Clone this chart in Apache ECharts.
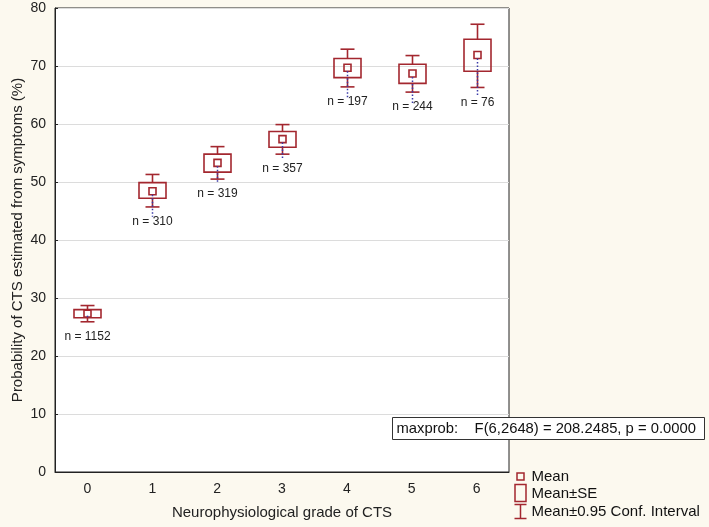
<!DOCTYPE html>
<html>
<head>
<meta charset="utf-8">
<script src="https://cdn.jsdelivr.net/npm/echarts@6/dist/echarts.min.js"></script>
<style>
html,body{margin:0;padding:0;background:#fcf9ef;}
#chart{width:709px;height:527px;}
</style>
</head>
<body>
<div id="chart"></div>
<script>
const categories = ['0', '1', '2', '3', '4', '5', '6'];
const means  = [27.3, 48.4, 53.3, 57.4, 69.7, 68.7, 71.9];
const seLow  = [26.6, 47.2, 51.7, 56.0, 68.0, 67.0, 69.1];
const seHigh = [28.0, 49.9, 54.8, 58.7, 71.3, 70.3, 74.6];
const ciLow  = [25.9, 45.7, 50.5, 54.8, 66.4, 65.5, 66.3];
const ciHigh = [28.7, 51.3, 56.1, 59.9, 72.9, 71.8, 77.2];
const dotLow = [27.3, 44.0, 49.7, 53.8, 64.5, 63.3, 65.0];
const nCounts = [1152, 310, 319, 357, 197, 244, 76];
const yTicks = [0, 10, 20, 30, 40, 50, 60, 70, 80];
const statText = 'maxprob:    F(6,2648) = 208.2485, p = 0.0000';
const legendNames = ['Mean', 'Mean\u00b1SE', 'Mean\u00b10.95 Conf. Interval'];

const RED = '#a3272f';
const FONT = '"Liberation Sans", Arial, sans-serif';

const data = categories.map((c, i) => [i, means[i], seLow[i], seHigh[i], ciLow[i], ciHigh[i], dotLow[i], nCounts[i]]);

function renderItem(params, api) {
  const x = api.value(0);
  const pm = api.coord([x, api.value(1)]);
  const pSL = api.coord([x, api.value(2)]);
  const pSH = api.coord([x, api.value(3)]);
  const pCL = api.coord([x, api.value(4)]);
  const pCH = api.coord([x, api.value(5)]);
  const pD = api.coord([x, api.value(6)]);
  const cx = Math.round(pm[0]) + 0.5;
  const bw = 27, cw = 14, ms = 7;
  const ls = {stroke: RED, lineWidth: 1.6, fill: null};
  const children = [
    {type: 'line', shape: {x1: cx, y1: pCH[1], x2: cx, y2: pSH[1]}, style: ls},
    {type: 'line', shape: {x1: cx, y1: pSL[1], x2: cx, y2: pCL[1]}, style: ls},
    {type: 'line', shape: {x1: cx - cw / 2, y1: pCH[1], x2: cx + cw / 2, y2: pCH[1]}, style: ls},
    {type: 'line', shape: {x1: cx - cw / 2, y1: pCL[1], x2: cx + cw / 2, y2: pCL[1]}, style: ls},
    {type: 'rect', shape: {x: cx - bw / 2, y: pSH[1], width: bw, height: pSL[1] - pSH[1]}, style: ls},
    {type: 'rect', shape: {x: cx - ms / 2, y: pm[1] - ms / 2, width: ms, height: ms}, style: ls},
    {type: 'line', shape: {x1: cx, y1: pm[1] + ms / 2, x2: cx, y2: pD[1]}, style: {stroke: '#3a3aa8', lineWidth: 1.5, lineDash: [1.5, 2]}},
    {type: 'text', x: cx, y: pCL[1] + 15, style: {text: 'n = ' + api.value(7), fill: '#222', font: '12px ' + FONT, align: 'center', verticalAlign: 'middle'}}
  ];
  return {type: 'group', children: children};
}

const chart = echarts.init(document.getElementById('chart'), null, {renderer: 'canvas'});
const option = {
  backgroundColor: '#fcf9ef',
  animation: false,
  textStyle: {fontFamily: FONT},
  grid: {left: 55, right: 200, top: 8, bottom: 55, outerBoundsMode: 'none', containLabel: false,
    show: true, backgroundColor: '#ffffff', borderColor: '#222', borderWidth: 1},
  xAxis: {
    type: 'category',
    data: categories,
    boundaryGap: true,
    name: 'Neurophysiological grade of CTS',
    nameLocation: 'middle',
    nameGap: 33,
    nameMoveOverlap: false,
    nameTextStyle: {fontSize: 15, color: '#222', fontFamily: FONT},
    axisLine: {lineStyle: {color: '#222', width: 1}},
    axisTick: {alignWithLabel: true, inside: true, length: 3, lineStyle: {color: '#222'}},
    axisLabel: {fontSize: 14, color: '#222', margin: 10, fontFamily: FONT},
    splitLine: {show: false}
  },
  yAxis: {
    type: 'value',
    min: 0, max: 80, interval: 10,
    name: 'Probability of CTS estimated from symptoms (%)',
    nameLocation: 'middle',
    nameGap: 30,
    nameMoveOverlap: false,
    nameTextStyle: {fontSize: 15, color: '#222', fontFamily: FONT},
    axisLine: {show: true, lineStyle: {color: '#222', width: 1}},
    axisTick: {show: true, inside: true, length: 3, lineStyle: {color: '#222'}},
    axisLabel: {fontSize: 14, color: '#222', margin: 9, fontFamily: FONT,
      formatter: v => yTicks.includes(v) ? String(v) : ''},
    splitLine: {show: true, lineStyle: {color: '#dcdcdc', width: 1}}
  },
  series: [{
    type: 'custom',
    renderItem: renderItem,
    data: data,
    encode: {x: 0, y: [2, 3, 4, 5]},
    clip: false,
    z: 5
  }],
  graphic: [
    {type: 'group', left: 392, top: 417, z: 100, children: [
      {type: 'rect', shape: {x: 0, y: 0, width: 312, height: 22}, style: {fill: '#fff', stroke: '#333', lineWidth: 1}},
      {type: 'text', x: 4, y: 11, style: {text: statText, font: '14.8px ' + FONT, fill: '#111', verticalAlign: 'middle'}}
    ]},
    {type: 'group', left: 512, top: 469, z: 100, children: [
      {type: 'rect', shape: {x: 3.5, y: 1.5, width: 7, height: 7}, style: {fill: null, stroke: RED, lineWidth: 1.5}},
      {type: 'text', x: 18, y: 5, style: {text: legendNames[0], font: '15px ' + FONT, fill: '#111', verticalAlign: 'middle'}},
      {type: 'rect', shape: {x: 1.5, y: 13, width: 11, height: 17}, style: {fill: null, stroke: RED, lineWidth: 1.5}},
      {type: 'text', x: 18, y: 22, style: {text: legendNames[1], font: '15px ' + FONT, fill: '#111', verticalAlign: 'middle'}},
      {type: 'line', shape: {x1: 1, y1: 33, x2: 13, y2: 33}, style: {stroke: RED, lineWidth: 1.5}},
      {type: 'line', shape: {x1: 7, y1: 33, x2: 7, y2: 47}, style: {stroke: RED, lineWidth: 1.5}},
      {type: 'line', shape: {x1: 1, y1: 47, x2: 13, y2: 47}, style: {stroke: RED, lineWidth: 1.5}},
      {type: 'text', x: 18, y: 40, style: {text: legendNames[2], font: '15px ' + FONT, fill: '#111', verticalAlign: 'middle'}}
    ]}
  ]
};
chart.setOption(option);
</script>
</body>
</html>
